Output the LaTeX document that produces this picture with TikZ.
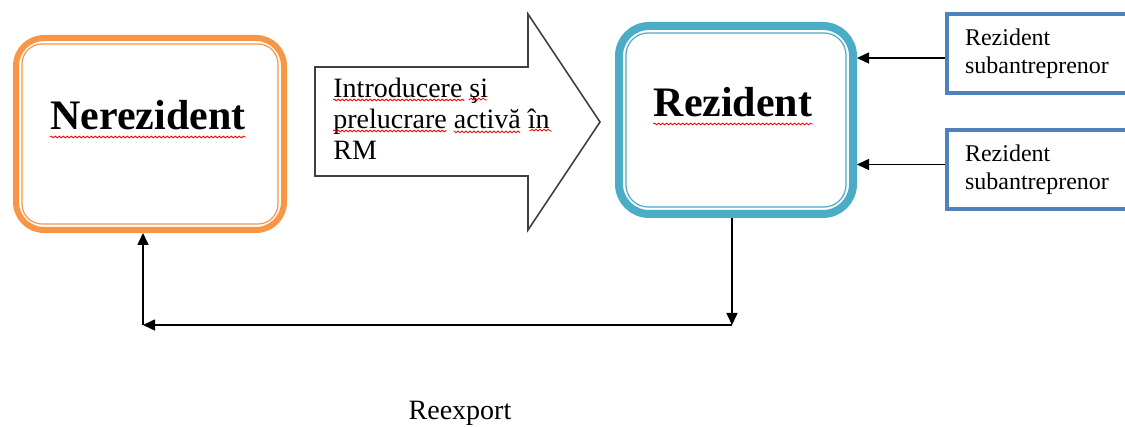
\documentclass[tikz,border=0pt]{standalone}
\usepackage{fontspec}
\setmainfont{Liberation Serif}
\usetikzlibrary{arrows.meta,decorations.pathmorphing}
\definecolor{boxorange}{HTML}{F79646}
\definecolor{boxaqua}{HTML}{4BACC6}
\definecolor{boxblue}{HTML}{4F81BD}
\definecolor{shapegray}{HTML}{404040}
\tikzset{
  bigbox/.style={draw, line width=3pt, rounded corners=14pt, fill=white},
  sbox/.style={draw=boxblue, line width=2pt, anchor=north west, minimum width=93pt,
    minimum height=39.5pt, text width=75pt, inner xsep=9pt, align=left,
    font=\fontsize{12}{14}\selectfont},
  squig/.style={red, line width=0.4pt, decorate,
    decoration={snake, amplitude=0.45pt, segment length=2pt}},
  >={Triangle[length=6pt,width=5.5pt]}
}

\begin{document}
\begin{tikzpicture}[x=0.5pt,y=-0.5pt]
\useasboundingbox (0,0) rectangle (1125,427);
% boxes
\node[bigbox, draw=boxorange, minimum width=134pt, minimum height=96pt] (nr) at (150,134) {};
\draw[boxorange, line width=0.6pt, rounded corners=10pt]
  ([shift={(9,9)}]nr.north west) rectangle ([shift={(-9,-9)}]nr.south east);
\node[bigbox, draw=boxaqua, line width=4pt, rounded corners=15pt, minimum width=117pt, minimum height=94pt] (rz) at (736,120) {};
\draw[boxaqua, line width=0.6pt, rounded corners=11pt]
  ([shift={(11,11)}]rz.north west) rectangle ([shift={(-11,-11)}]rz.south east);
\node[sbox] (s1) at (945,12) {Rezident\\ subantreprenor};
\node[sbox] (s2) at (945,128) {Rezident\\ subantreprenor};
% labels
\node[anchor=base, inner sep=0, font=\fontsize{21}{24}\selectfont\bfseries] (ln) at (148,130) {Nerezident};
\node[anchor=base, inner sep=0, font=\fontsize{21}{24}\selectfont\bfseries] (lr) at (733,117) {Rezident};
\draw[squig] ([yshift=-3.5pt]ln.base west) -- ([yshift=-3.5pt]ln.base east);
\draw[squig] ([yshift=-3.5pt]lr.base west) -- ([yshift=-3.5pt]lr.base east);
% big arrow
\draw[shapegray, line width=0.8pt, fill=white]
  (315,67) -- (528,67) -- (528,14) -- (600,122) -- (528,230) -- (528,176) -- (315,176) -- cycle;
\node[anchor=north west, inner sep=0, align=left, font=\fontsize{14}{15.5}\selectfont] (tx) at (333,78)
  {Introducere şi\\ prelucrare activă în\\ RM};
\draw[squig] (333,100) -- (463,100) (469,100) -- (487,100);
\draw[squig] (333,131) -- (445,131) (454,131) -- (521,131) (530,131) -- (552,131);
\node[anchor=base, inner sep=0, font=\fontsize{14}{16}\selectfont] (rx) at (460,419) {Reexport};
% connectors
\coordinate (c1) at (732,325);
\coordinate (c2) at (143,325);
\path[->, line width=0.75pt]
([yshift=-2.25pt]s1.west) edge ([yshift=-2.25pt]s1.west -| rz.east)
([yshift=2.5pt]s2.west) edge ([yshift=2.5pt]s2.west -| rz.east)
(rz.south -| c1) edge (c1)
(c1) edge (c2)
(c2) edge (c2 |- nr.south);
\end{tikzpicture}
\end{document}
